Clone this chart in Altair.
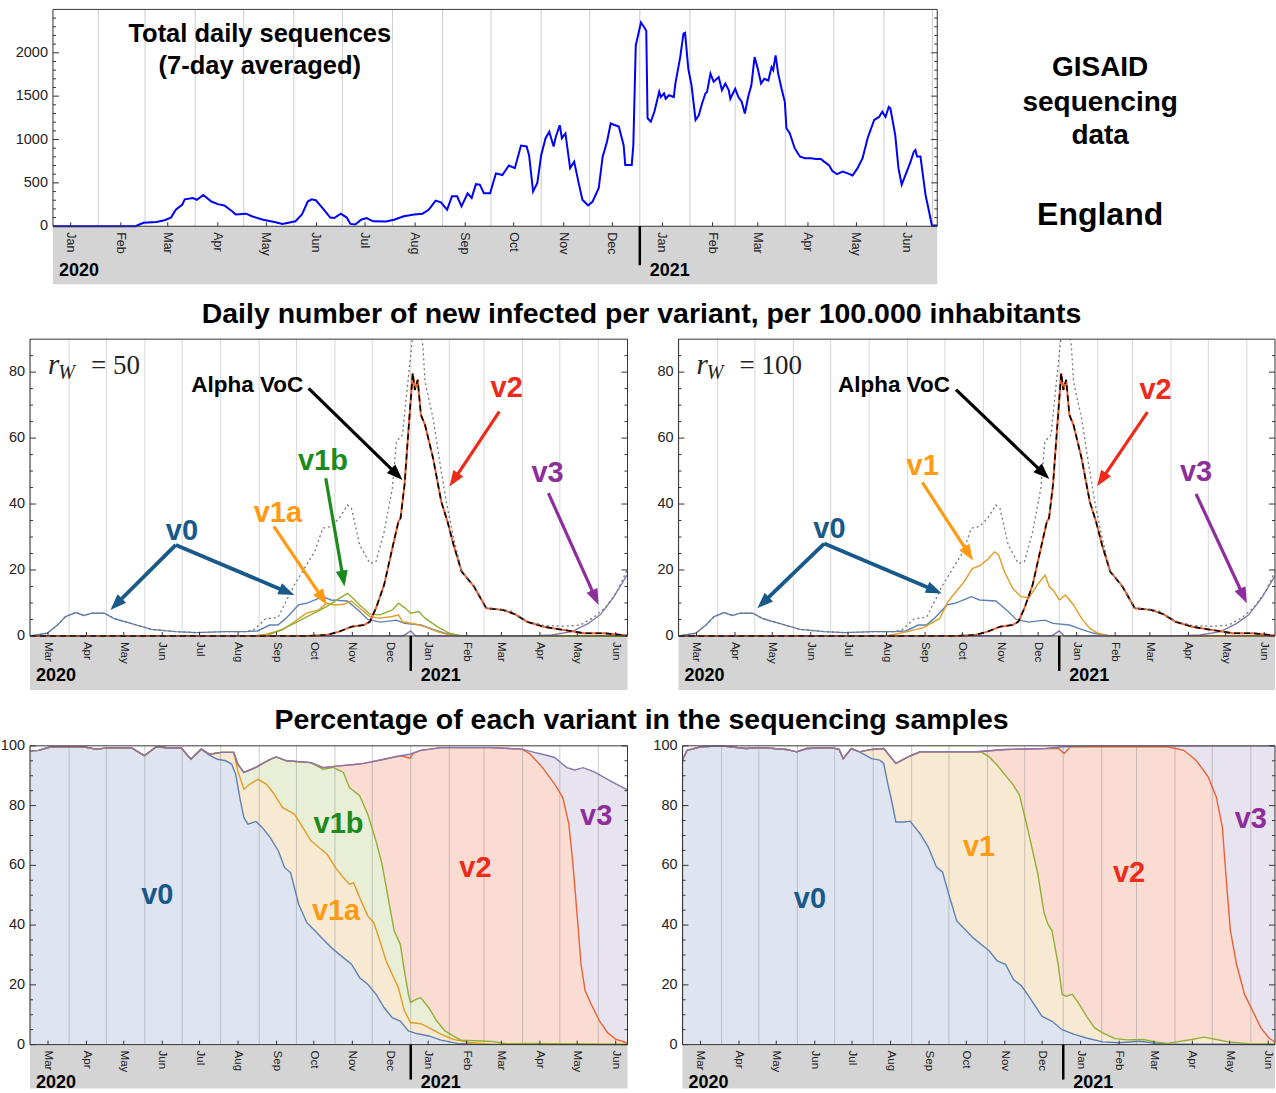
import altair as alt
import numpy as np
import pandas as pd

FONT = "Liberation Sans"
SERIF = "Liberation Serif"

# ======================= data (days counted from 1 Jan 2020 = day 0) =======================
# --- total daily sequences (7-day averaged), GISAID England ---
seq_days = [3, 54, 59, 67, 72, 76, 79, 83, 84.5, 89.6,
            92, 96, 101, 105, 109, 114, 116, 122.5, 126, 133,
            140, 145, 153, 157, 160.6, 163, 165.6, 170.7, 174.5, 177,
            181, 184.7, 187, 190, 193.6, 197, 201, 209, 214, 220,
            226.5, 231.6, 235.4, 239.7, 243, 246.8, 249.8, 253, 255.7, 259.5,
            262, 264.6, 267, 269.6, 273.4, 277, 281, 285, 288.7, 292.5,
            296, 297.5, 300, 302.6, 305, 307.7, 310, 312.7, 314, 316.5,
            317.8, 320, 322.9, 325.4, 328, 330.5, 334, 336.8, 340.6, 343,
            345.7, 348, 350.8, 353, 356, 357, 361, 362, 363.5, 366.7,
            368.7, 370, 370.8, 372.8, 375, 378, 379, 381, 382, 384,
            387, 388, 391, 393, 394, 396, 398, 400.5, 402.5, 404.5,
            406.6, 407.6, 409.7, 411.7, 414.8, 416.8, 418.9, 421, 422, 425,
            427, 429, 431, 433, 435, 437, 439, 441, 443, 445.5,
            447.5, 448.5, 450, 451.6, 453.7, 455.7, 456.7, 458.8, 461.8, 465,
            468, 472, 475, 478, 480, 483, 485, 488, 491.5, 494.6,
            497.6, 500.7, 503.8, 506.9, 511, 514, 516, 518, 520, 521,
            524, 526, 528, 530, 533.5, 535.5, 536.5, 537.5, 539.6, 542.7,
            544.7, 546.7, 550]
seq_vals = [0, 0, 40, 50, 70, 100, 190, 250, 310, 325,
            305, 360, 285, 255, 240, 170, 135, 145, 115, 75,
            50, 27, 57, 135, 285, 310, 300, 190, 100, 95,
            145, 100, 27, 20, 75, 95, 57, 55, 75, 115,
            135, 145, 190, 295, 275, 190, 345, 345, 230, 380,
            325, 485, 480, 380, 380, 610, 590, 700, 670, 930,
            920, 820, 400, 500, 820, 1015, 1090, 920, 1030, 1165,
            1015, 1070, 670, 745, 515, 305, 240, 285, 440, 800,
            975, 1185, 1165, 1150, 935, 705, 705, 935, 2085, 2350,
            2295, 2255, 1245, 1205, 1320, 1550, 1490, 1530, 1470, 1510,
            1490, 1645, 1950, 2220, 2230, 1815, 1625, 1225, 1280, 1415,
            1530, 1550, 1760, 1665, 1720, 1570, 1645, 1570, 1470, 1585,
            1490, 1435, 1300, 1490, 1625, 1950, 1815, 1645, 1700, 1680,
            1835, 1800, 1970, 1760, 1585, 1435, 1130, 1070, 900, 805,
            785, 785, 775, 775, 745, 705, 640, 600, 630, 610,
            585, 670, 785, 1015, 1225, 1260, 1320, 1260, 1375, 1360,
            1050, 670, 480, 575, 745, 860, 880, 805, 805, 365,
            190, 10, 10]

# --- daily new infected per variant, per 100.000 inhabitants ---
v0_days = [59.5, 73.3, 81.6, 88.2, 96.4, 102.9, 109.5, 119.4, 127.6, 140.7,
           157.2, 176.9, 193.4, 216.4, 232.8, 242.7, 252.5, 259.1, 265.7, 275.6,
           282.1, 292.0, 295.3, 301.9, 315.0, 324.9, 331.4, 341.3, 354.5, 361.0,
           374.2, 384.0, 393.9, 407.0, 540.5]
v0_vals = [0, 0.8, 3.3, 5.9, 7.1, 6.2, 6.9, 6.9, 5.2, 3.8,
           2.0, 1.3, 1.0, 1.3, 1.3, 1.5, 3.3, 3.3, 5.4, 9.4,
           9.9, 11.4, 11.9, 10.9, 10.6, 7.4, 5.0, 4.2, 4.8, 3.8,
           3.3, 2.0, 0.8, 0.0, 0.0]
# total (dotted) – equals v0 until August, then:
total_days_own = [239.4, 249.3, 259.1, 265.7, 272.3, 282.1, 288.7, 295.3, 301.9, 308.4,
                  315.0, 318.3, 324.9, 333.1, 338.0, 344.6, 351.2, 354.5, 359.4, 364.3,
                  369.3, 372.5, 375.8, 377.5, 384.0, 390.6, 395.6, 400.5, 407.0, 416.9,
                  426.8, 440.0, 446.5, 459.7, 472.8, 489.3, 502.4, 512.3, 522.2, 532.0,
                  540.2]
total_vals_own = [1.8, 5.2, 5.6, 10.5, 15.5, 21.5, 25.6, 32.7, 33.2, 35.7,
                  39.7, 38.7, 27.6, 22.0, 22.5, 31.6, 44.8, 59.0, 61.0, 79.2,
                  97.0, 95.0, 88.0, 77.1, 66.0, 49.8, 38.7, 29.8, 19.8, 15.3,
                  8.6, 8.0, 7.6, 4.5, 3.2, 2.9, 3.3, 5.4, 8.4, 13.4,
                  20.0]
alpha_days = [59.5, 283.0, 298.3, 308.4, 318.3, 328.2, 333.1, 338.0, 344.6, 351.2,
              356.1, 357.8, 361.0, 364.3, 367.6, 369.3, 371.6, 374.2, 377.5, 384.0,
              390.6, 395.6, 400.5, 407.0, 416.9, 426.8, 440.0, 449.8, 459.7, 472.8,
              489.3, 505.7, 522.2, 540.2]
alpha_vals = [0, 0, 0.3, 1.3, 2.8, 3.3, 4.3, 8.4, 15.5, 26.6,
              34.7, 35.7, 45.8, 63.0, 79.7, 74.6, 77.7, 67.0, 64.0, 53.9,
              40.7, 34.7, 27.6, 19.5, 15.0, 8.4, 7.9, 6.6, 4.3, 2.8,
              1.8, 0.8, 0.8, 0.1]
v1a_days = [59.5, 239.4, 249.3, 262.4, 272.3, 282.1, 292.0, 298.3, 305.1, 311.7,
            318.3, 324.9, 333.1, 341.3, 351.2, 356.1, 359.4, 370.9, 377.5, 387.3,
            397.2, 407.0, 540.5]
v1a_vals = [0, 0, 0.5, 1.8, 4.3, 6.9, 7.9, 9.9, 9.4, 9.6,
            10.6, 8.4, 5.9, 5.4, 5.9, 6.4, 4.3, 3.5, 2.8, 1.3,
            0.3, 0, 0]
v1b_days = [59.5, 249.3, 262.4, 272.3, 285.4, 298.3, 308.4, 315.0, 318.3, 324.9,
            333.1, 341.3, 351.2, 356.1, 361.0, 366.0, 372.5, 377.5, 387.3, 397.2,
            407.0, 540.5]
v1b_vals = [0, 0, 2.0, 3.8, 6.4, 8.9, 11.4, 12.9, 11.9, 9.4,
            6.6, 6.4, 7.9, 9.9, 8.6, 6.9, 7.4, 5.4, 2.8, 0.8,
            0, 0]
v1_days = [59.5, 227.4, 243.7, 256.8, 269.8, 276.4, 282.9, 289.4, 296.0, 302.5,
           309.0, 313.9, 317.2, 322.0, 328.6, 335.1, 341.6, 348.2, 354.7, 358.0,
           361.2, 366.1, 371.0, 377.5, 384.0, 390.6, 397.1, 406.9, 540.5]
v1_vals = [0, 0, 1.3, 2.5, 5.3, 10.4, 13.4, 16.4, 20.4, 21.4,
           23.4, 25.5, 24.6, 19.4, 14.4, 11.9, 11.6, 15.4, 18.4, 14.9,
           13.9, 10.9, 12.4, 9.4, 5.3, 2.3, 0.8, 0, 0]
v3_days = [59.5, 360.0, 366.0, 370.0, 463.0, 479.4, 495.8, 509.0, 518.5, 528.7, 540.2]
v3_vals = [0, 0, 1.5, 0, 0, 0.3, 1.3, 3.8, 6.4, 11.4, 18.5]

# --- percentage of each variant (cumulative boundaries), r_W = 50 ---
pL_top_days = [59.5, 66.5, 76.3, 102.5, 112.3, 125.4, 141.7, 151.5, 161.3, 174.4,
               181.0, 189.1, 197.3, 203.9, 213.7, 223.5, 226.8, 231.7, 239.8, 252.9,
               257.8, 266.0, 285.6, 295.4, 308.5, 324.9, 331.4, 344.5, 357.6, 365.1,
               374.0, 390.3, 429.6, 455.7, 465.5, 472.1, 481.9, 491.7, 498.2, 504.8,
               514.6, 524.4, 534.2, 540.8]
pL_top_vals = [98.3, 98.5, 99.7, 99.7, 98.9, 99.4, 99.2, 96.7, 99.7, 99.2,
               99.4, 95.5, 98.9, 97.2, 97.8, 97.8, 93.9, 91.1, 92.5, 95.5,
               96.3, 95.0, 94.4, 92.7, 93.3, 93.9, 94.4, 95.5, 96.7, 97.2,
               98.5, 99.4, 99.4, 98.9, 97.8, 97.2, 96.1, 92.7, 91.9, 92.7,
               91.1, 88.8, 86.6, 85.2]
pL_v2_days = [357.6, 365.5, 368.0, 374.0, 390.3, 429.6, 455.7, 462.3, 472.1, 481.9,
              488.4, 493.3, 496.6, 499.9, 503.1, 506.4, 511.3, 517.9, 524.4, 530.9,
              539.1, 540.8]
pL_v2_vals = [96.7, 95.9, 97.5, 98.5, 99.4, 99.4, 98.9, 97.2, 92.7, 87.2,
              82.7, 73.8, 60.4, 43.6, 26.9, 18.0, 13.5, 7.9, 4.0, 1.8,
              0.7, 0.5]
pL_v1b_days = [295.4, 303.6, 311.8, 316.7, 324.9, 331.4, 338.0, 342.9, 347.8, 352.7,
               357.6, 360.9, 364.1, 365.8, 370.7, 374.0, 380.5, 387.0, 393.6, 400.1,
               406.7, 423.0, 432.8, 442.6, 462.3, 478.5, 540.8]
pL_v1b_vals = [92.2, 92.8, 91.1, 86.0, 83.3, 77.1, 68.2, 60.4, 49.2, 38.1,
               33.6, 24.7, 16.9, 14.1, 15.2, 15.7, 12.4, 7.9, 4.6, 2.9,
               1.5, 1.2, 1.0, 0.3, 0.4, 0.3, 0.1]
pL_v1a_days = [226.8, 231.7, 236.6, 243.1, 249.7, 256.2, 262.7, 267.6, 272.5, 279.1,
               285.6, 292.2, 298.7, 305.3, 311.8, 316.7, 320.0, 324.9, 331.4, 336.3,
               341.2, 346.2, 351.1, 356.0, 360.9, 365.8, 374.0, 380.5, 390.3, 400.1,
               413.2, 429.6, 540.8]
pL_v1a_vals = [91.6, 85.5, 87.2, 88.8, 87.2, 83.8, 79.4, 78.2, 77.1, 72.7,
               68.2, 66.0, 63.7, 59.3, 55.9, 53.7, 54.2, 49.2, 43.1, 40.8,
               34.7, 28.0, 23.5, 19.1, 11.3, 7.4, 7.0, 5.7, 3.5, 1.8,
               0.7, 0.1, 0.0]
pL_v0_days = [203.9, 210.4, 217.0, 221.8, 225.1, 228.4, 231.7, 234.9, 241.5, 246.4,
              252.9, 259.5, 264.4, 269.3, 275.8, 282.4, 288.9, 295.4, 302.0, 308.5,
              318.3, 324.9, 331.4, 338.0, 344.5, 351.1, 357.6, 364.1, 370.7, 380.5,
              390.3, 403.4, 416.5, 540.8]
pL_v0_vals = [96.9, 95.5, 95.0, 93.9, 90.5, 82.7, 76.0, 73.8, 74.7, 72.7,
              69.3, 64.8, 59.3, 57.6, 47.0, 40.8, 38.1, 35.3, 32.5, 30.2,
              26.9, 22.4, 20.2, 16.9, 12.4, 9.0, 7.9, 4.6, 3.7, 2.9,
              1.5, 0.4, 0.1, 0.0]

# --- percentage of each variant (cumulative boundaries), r_W = 100 ---
pR_top_days = [59.5, 63.2, 74.7, 91.0, 110.6, 123.6, 143.2, 151.4, 159.5, 179.1,
               185.6, 188.9, 195.4, 202.0, 211.7, 221.5, 231.3, 241.1, 250.9, 273.8,
               296.6, 319.5, 352.1, 365.1, 384.7, 540.5]
pR_top_vals = [95.2, 98.5, 99.7, 100, 99.1, 99.4, 98.8, 98.0, 99.1, 99.4,
               98.8, 95.7, 99.1, 98.0, 98.8, 99.1, 94.1, 96.3, 98.0, 98.0,
               98.0, 98.8, 99.1, 99.7, 100, 100]
pR_v2_days = [362.0, 366.8, 371.7, 450.0, 463.1, 472.9, 482.7, 489.2, 494.1, 497.3,
              500.6, 505.5, 512.0, 518.6, 525.1, 531.6, 537.5, 540.5]
pR_v2_vals = [99.2, 97.4, 99.7, 99.7, 98.5, 95.2, 89.6, 82.9, 72.8, 54.9,
              38.1, 26.9, 16.8, 11.2, 5.6, 2.2, 0.6, 0.3]
pR_v1_days = [299.9, 306.4, 312.9, 319.5, 326.0, 330.9, 335.8, 340.7, 345.6, 350.5,
              353.7, 357.0, 361.9, 365.1, 368.4, 373.3, 378.2, 384.7, 391.3, 397.8,
              407.6, 417.4, 430.4, 440.2, 450.0, 459.8, 469.6, 479.4, 489.2, 499.0,
              515.3, 540.5]
pR_v1_vals = [98.0, 96.3, 93.5, 90.1, 86.8, 83.4, 75.0, 66.1, 57.1, 44.2,
              40.3, 38.1, 26.9, 16.8, 16.2, 16.8, 14.0, 9.5, 5.6, 3.9,
              2.0, 1.6, 1.7, 0.9, 0.4, 1.1, 1.7, 2.5, 1.7, 0.9,
              0.3, 0.2]
pR_v0_days = [211.7, 218.3, 221.5, 224.8, 228.1, 231.3, 237.9, 242.7, 250.9, 257.4,
              264.0, 268.9, 273.8, 280.3, 286.8, 293.3, 301.5, 306.4, 312.9, 319.5,
              326.0, 332.5, 339.0, 348.8, 357.0, 365.1, 374.9, 384.7, 397.8, 410.8,
              427.2, 437.0, 450.0, 540.5]
pR_v0_vals = [95.7, 95.2, 94.1, 87.3, 81.2, 74.5, 74.5, 74.8, 70.5, 66.1,
              59.4, 57.7, 50.4, 41.4, 38.6, 35.8, 33.0, 31.4, 28.0, 26.9,
              21.8, 19.6, 15.7, 9.5, 7.8, 5.0, 3.4, 2.2, 0.9, 0.6,
              1.1, 0.6, 0.2, 0.0]


def extend(base_d, base_v, own_d, own_v):
    """Series that follows base until its own readings start."""
    keep = [i for i, d in enumerate(base_d) if d < own_d[0]]
    return [base_d[i] for i in keep] + list(own_d), [base_v[i] for i in keep] + list(own_v)


total_days, total_vals = extend(v0_days, v0_vals, total_days_own, total_vals_own)
pL_v2 = extend(pL_top_days, pL_top_vals, pL_v2_days, pL_v2_vals)
pL_v1b = extend(pL_top_days, pL_top_vals, pL_v1b_days, pL_v1b_vals)
pL_v1a = extend(pL_top_days, pL_top_vals, pL_v1a_days, pL_v1a_vals)
pL_v0 = extend(pL_top_days, pL_top_vals, pL_v0_days, pL_v0_vals)
pR_v2 = extend(pR_top_days, pR_top_vals, pR_v2_days, pR_v2_vals)
pR_v1 = extend(pR_top_days, pR_top_vals, pR_v1_days, pR_v1_vals)
pR_v0 = extend(pR_top_days, pR_top_vals, pR_v0_days, pR_v0_vals)

# months / calendar
ORIGIN = pd.Timestamp("2020-01-01")
MONTHS = pd.date_range("2020-01-01", "2021-07-01", freq="MS")
month_start = [int((m - ORIGIN).days) for m in MONTHS]
month_mid = [d + 14 for d in month_start]
month_name = [m.strftime("%b") for m in MONTHS]
YEAR_SPLIT = int((pd.Timestamp("2021-01-01") - ORIGIN).days)

# colours
LINE = {"v0": "#5E81B5", "v1a": "#E19C24", "v1b": "#8FB032", "v2": "#EB6235", "v3": "#8778B3"}
FILL = {"v0": "#dfe5f0", "v1a": "#f8e9d2", "v1b": "#e8efd6", "v2": "#fadcd3", "v3": "#e7e3ef"}
LAB = {"v0": "#17598a", "v1a": "#ff9a12", "v1b": "#1d8a1d", "v2": "#ee2a1a", "v3": "#8e2e9c",
       "alpha": "#000000"}


class Panel:
    def __init__(self, x0, W, ppd, ymax, plot_h, band_h):
        self.x0 = x0
        self.W = W
        self.ppd = ppd
        self.x1 = x0 + W / ppd
        self.ymax = ymax
        self.ppu = plot_h / ymax
        self.ymin = -band_h / self.ppu
        self.H = plot_h + band_h
        self.xs = alt.Scale(domain=[self.x0, self.x1], nice=False, zero=False)
        self.ys = alt.Scale(domain=[self.ymin, self.ymax], nice=False, zero=False)

    def X(self, f):
        return alt.X(f, type="quantitative", scale=self.xs, axis=None)

    def Y(self, f):
        return alt.Y(f, type="quantitative", scale=self.ys, axis=None)

    @staticmethod
    def ch(d):
        return alt.Chart(pd.DataFrame(d))

    def band(self):
        return self.ch({"a": [self.x0], "b": [self.x1], "c": [self.ymin], "d": [0.0]}).mark_rect(
            color="#d4d4d4").encode(x=self.X("a"), x2="b", y=self.Y("c"), y2="d")

    def grid(self, color, opacity=1.0):
        xs = [d for d in month_start if self.x0 < d < self.x1]
        return self.ch({"x": xs, "y": [0.0] * len(xs), "y2": [self.ymax] * len(xs)}).mark_rule(
            color=color, strokeWidth=1, opacity=opacity).encode(x=self.X("x"), y=self.Y("y"), y2="y2")

    def frame(self):
        return self.ch({"a": [self.x0], "b": [self.x1], "c": [0.0], "d": [self.ymax]}).mark_rect(
            filled=False, color="#333333", strokeWidth=1).encode(x=self.X("a"), x2="b", y=self.Y("c"), y2="d")

    def yticks(self, major, minor):
        rows = []
        for v in major:
            rows += [(self.x0, self.x0 + 6 / self.ppd, v), (self.x1 - 6 / self.ppd, self.x1, v)]
        for v in minor:
            rows += [(self.x0, self.x0 + 3 / self.ppd, v), (self.x1 - 3 / self.ppd, self.x1, v)]
        a, b, y = zip(*rows)
        return self.ch({"a": a, "b": b, "y": y}).mark_rule(color="#333333", strokeWidth=1).encode(
            x=self.X("a"), x2="b", y=self.Y("y"))

    def ylabels(self, vals, size=14.5):
        return self.ch({"x": [self.x0] * len(vals), "y": vals, "t": [str(v) for v in vals]}).mark_text(
            font=FONT, fontSize=size, align="right", baseline="middle", dx=-5, color="#222222").encode(
            x=self.X("x"), y=self.Y("y"), text="t:N")

    def xticks(self):
        xs = [d for d in month_mid if self.x0 < d < self.x1]
        n = len(xs)
        return self.ch({"x": xs, "y": [0.0] * n, "y2": [4 / self.ppu] * n}).mark_rule(
            color="#333333", strokeWidth=1).encode(x=self.X("x"), y=self.Y("y"), y2="y2")

    def xlabels(self, size):
        idx = [i for i, d in enumerate(month_mid) if self.x0 < d < self.x1]
        return self.ch({"x": [month_mid[i] for i in idx], "y": [0.0] * len(idx),
                        "t": [month_name[i] for i in idx]}).mark_text(
            font=FONT, fontSize=size, angle=90, align="left", baseline="middle", dx=6,
            color="#222222").encode(x=self.X("x"), y=self.Y("y"), text="t:N")

    def years(self, y_off, rule_px, size=18):
        rule = self.ch({"x": [YEAR_SPLIT], "y": [0.0], "y2": [-rule_px / self.ppu]}).mark_rule(
            color="black", strokeWidth=2.5).encode(x=self.X("x"), y=self.Y("y"), y2="y2")
        txt = self.ch({"x": [self.x0 + 6 / self.ppd, YEAR_SPLIT + 10 / self.ppd], "y": [0.0, 0.0],
                       "t": ["2020", "2021"]}).mark_text(
            font=FONT, fontSize=size, fontWeight="bold", align="left", baseline="alphabetic",
            dy=y_off, color="black").encode(x=self.X("x"), y=self.Y("y"), text="t:N")
        return [rule, txt]

    def line(self, days, vals, color, width=1.4, dash=None):
        kw = dict(color=color, strokeWidth=width, clip=True)
        if dash:
            kw["strokeDash"] = dash
        return self.ch({"x": days, "y": vals}).mark_line(**kw).encode(x=self.X("x"), y=self.Y("y"))

    def area(self, days, vals, color):
        return self.ch({"x": days, "y": vals, "z": [0.0] * len(days)}).mark_area(
            color=color, opacity=1, clip=True).encode(x=self.X("x"), y=self.Y("y"), y2="z")

    def labels(self, items, size=29, align="center"):
        t, x, y, c = zip(*items)
        return self.ch({"t": t, "x": x, "y": y, "c": c}).mark_text(
            font=FONT, fontSize=size, fontWeight="bold", align=align, baseline="middle").encode(
            x=self.X("x"), y=self.Y("y"), text="t:N", color=alt.Color("c:N", scale=None))

    def arrows(self, specs, head=16):
        rows = []
        for x1, y1, x2, y2, col, w in specs:
            dxp = (x2 - x1) * self.ppd
            dyp = -(y2 - y1) * self.ppu
            L = float(np.hypot(dxp, dyp))
            ux, uy = dxp / L, dyp / L
            rows.append({"x1": x1, "y1": y1,
                         "cx": x2 - ux * (head / 2) / self.ppd,
                         "cy": y2 + uy * (head / 2) / self.ppu,
                         "c": col, "w": w,
                         "a": float(np.degrees(np.arctan2(dxp, -dyp)) % 360),
                         "s": head * head})
        d = pd.DataFrame(rows)
        shaft = alt.Chart(d).mark_rule(strokeCap="butt").encode(
            x=self.X("x1"), y=self.Y("y1"), x2="cx", y2="cy",
            color=alt.Color("c:N", scale=None), strokeWidth=alt.StrokeWidth("w:Q", scale=None))
        tip = alt.Chart(d).mark_point(shape="M0,-1L0.75,1L-0.75,1Z", filled=True, opacity=1).encode(
            x=self.X("cx"), y=self.Y("cy"), color=alt.Color("c:N", scale=None),
            angle=alt.Angle("a:Q", scale=None), size=alt.Size("s:Q", scale=None))
        return [shaft, tip]

    def rw(self, value_text):
        r = self.ch({"x": [74.0], "y": [79.4], "t": ["r"]}).mark_text(
            font=SERIF, fontStyle="italic", fontSize=29, align="left", baseline="alphabetic",
            color="#222222").encode(x=self.X("x"), y=self.Y("y"), text="t:N")
        w = self.ch({"x": [82.3], "y": [77.9], "t": ["W"]}).mark_text(
            font=SERIF, fontStyle="italic", fontSize=20, align="left", baseline="alphabetic",
            color="#222222").encode(x=self.X("x"), y=self.Y("y"), text="t:N")
        eq = self.ch({"x": [108.6], "y": [79.4], "t": ["= " + value_text]}).mark_text(
            font=SERIF, fontSize=27, align="left", baseline="alphabetic",
            color="#222222").encode(x=self.X("x"), y=self.Y("y"), text="t:N")
        return [r, w, eq]

    def frame_layers(self, major, minor, xsize, y_off, rule_px):
        return [self.frame(), self.yticks(major, minor), self.xticks(), self.ylabels(major),
                self.xlabels(xsize)] + self.years(y_off, rule_px)


def spacer(w, h):
    return alt.Chart(pd.DataFrame({"a": [0]})).mark_point(opacity=0, size=1).encode(
        x=alt.value(w / 2), y=alt.value(h / 2)).properties(width=w, height=h)


def text_at(txt, x, y, size, bold=True, align="center"):
    return alt.Chart(pd.DataFrame({"t": [txt]})).mark_text(
        font=FONT, fontSize=size, fontWeight="bold" if bold else "normal", align=align,
        baseline="middle", color="black").encode(x=alt.value(x), y=alt.value(y), text="t:N")


# ======================= top panel =======================
pt = Panel(3, 885, 885 / 547, 2500, 217, 58)
top_major = [0, 500, 1000, 1500, 2000]
top_minor = [v for v in range(100, 2500, 100) if v % 500]
top_chart = alt.layer(
    pt.band(), pt.grid("#cccccc"),
    pt.line(seq_days, seq_vals, "#0000ff", 2.0),
    *pt.frame_layers(top_major, top_minor, 12.5, 50, 39),
    text_at("Total daily sequences", 207, 25, 25.5),
    text_at("(7-day averaged)", 207, 57, 25.5),
).properties(width=pt.W, height=pt.H)

info_chart = alt.layer(
    text_at("GISAID", 163, 59, 28),
    text_at("sequencing", 163, 94, 28),
    text_at("data", 163, 127, 28),
    text_at("England", 163, 206, 32),
).properties(width=338, height=275)

# ======================= middle panels =======================
PPD = 598 / 481


def mid_panel(W, variant_lines, labels, alpha_x, arrows, rw_text):
    p = Panel(59.5, W, PPD, 90, 297, 54)
    layers = [p.band(), p.grid("#d8d8d8"), p.line(v0_days, v0_vals, LINE["v0"])]
    layers += [p.line(d, v, c) for d, v, c in variant_lines]
    layers += [p.line(v3_days, v3_vals, LINE["v3"]),
               p.line(alpha_days, alpha_vals, LINE["v2"], 2.0),
               p.line(alpha_days, alpha_vals, "black", 1.6, [6, 4]),
               p.line(total_days, total_vals, "#777777", 1.3, [2, 3])]
    layers += p.frame_layers([0, 20, 40, 60, 80], [v for v in range(5, 90, 5) if v % 20], 11.5, 45, 35)
    layers += p.rw(rw_text)
    layers.append(p.labels(labels))
    layers.append(p.labels([("Alpha VoC", alpha_x, 76.1, LAB["alpha"])], size=22.5, align="right"))
    layers += p.arrows(arrows)
    return alt.layer(*layers).properties(width=p.W, height=p.H)


midL = mid_panel(
    598,
    [(v1a_days, v1a_vals, LINE["v1a"]), (v1b_days, v1b_vals, LINE["v1b"])],
    [("v0", 181.8, 31.9, LAB["v0"]), ("v1a", 259.1, 37.2, LAB["v1a"]),
     ("v1b", 295.3, 52.9, LAB["v1b"]), ("v2", 443.2, 75.1, LAB["v2"]),
     ("v3", 476.1, 49.3, LAB["v3"])],
    279.5,
    [(283.8, 75.1, 359.4, 47.3, LAB["alpha"], 3.2),
     (437.3, 68.0, 397.2, 45.3, LAB["v2"], 3.2),
     (297.6, 47.8, 312.7, 15.0, LAB["v1b"], 3.2),
     (255.8, 33.2, 298.6, 9.4, LAB["v1a"], 3.2),
     (176.9, 27.6, 124.3, 7.9, LAB["v0"], 3.8),
     (176.9, 27.6, 272.3, 12.4, LAB["v0"], 3.8),
     (476.8, 43.3, 517.2, 9.4, LAB["v3"], 3.2)],
    "50")

midR = mid_panel(
    597,
    [(v1_days, v1_vals, LINE["v1a"])],
    [("v0", 181.0, 32.5, LAB["v0"]), ("v1", 256.1, 51.6, LAB["v1a"]),
     ("v2", 443.5, 74.7, LAB["v2"]), ("v3", 476.1, 49.6, LAB["v3"])],
    278.0,
    [(282.9, 74.7, 358.0, 47.6, LAB["alpha"], 3.2),
     (437.0, 67.9, 396.5, 45.4, LAB["v2"], 3.2),
     (255.8, 46.6, 296.6, 22.9, LAB["v1a"], 3.2),
     (176.8, 28.0, 123.0, 8.4, LAB["v0"], 3.8),
     (176.8, 28.0, 271.5, 12.9, LAB["v0"], 3.8),
     (476.1, 43.1, 517.0, 9.9, LAB["v3"], 3.2)],
    "100")

# ======================= bottom panels =======================


def pct_panel(W, top, bounds, labels):
    p = Panel(59.5, W, PPD, 100, 299, 44)
    layers = [p.band(), p.area(top[0], top[1], FILL["v3"])]
    layers += [p.area(b[0], b[1], FILL[k]) for k, b, _ in bounds]
    layers.append(p.grid("#8c8c8c", 0.45))
    layers += [p.line(b[0], b[1], lc, 1.4) for _, b, lc in bounds[::-1]]
    layers.append(p.line(top[0], top[1], LINE["v3"], 1.4))
    layers += p.frame_layers([0, 20, 40, 60, 80, 100], [v for v in range(5, 100, 5) if v % 20], 11.5, 43, 35)
    layers.append(p.labels(labels))
    return alt.layer(*layers).properties(width=p.W, height=p.H)


botL = pct_panel(
    598, (pL_top_days, pL_top_vals),
    [("v2", pL_v2, LINE["v2"]), ("v1b", pL_v1b, LINE["v1b"]),
     ("v1a", pL_v1a, LINE["v1a"]), ("v0", pL_v0, LINE["v0"])],
    [("v0", 162.0, 50.1, LAB["v0"]), ("v1b", 307.9, 74.0, LAB["v1b"]),
     ("v1a", 305.9, 44.8, LAB["v1a"]), ("v2", 418.1, 59.0, LAB["v2"]),
     ("v3", 515.3, 76.6, LAB["v3"])])

botR = pct_panel(
    593, (pR_top_days, pR_top_vals),
    [("v2", pR_v2, LINE["v2"]), ("v1a", pR_v1, LINE["v1b"]), ("v0", pR_v0, LINE["v0"])],
    [("v0", 162.1, 48.7, LAB["v0"]), ("v1", 298.2, 66.3, LAB["v1a"]),
     ("v2", 419.0, 57.3, LAB["v2"]), ("v3", 517.0, 75.6, LAB["v3"])])

# ======================= headings & layout =======================
head1 = text_at("Daily number of new infected per variant, per 100.000 inhabitants", 641, 30, 28.5).properties(
    width=1275, height=54)
# the bottom row's "100" label reaches ~7 px above its plot, which the layout counts
head2 = text_at("Percentage of each variant in the sequencing samples", 641, 30, 28.5).properties(
    width=1275, height=48)

rowA = alt.hconcat(spacer(52, 275), top_chart, info_chart, spacing=0, bounds="flush")
rowC = alt.hconcat(spacer(29, 351), midL, spacer(51, 351), midR, spacing=0, bounds="flush")
rowE = alt.hconcat(spacer(29, 343), botL, spacer(55, 343), botR, spacing=0, bounds="flush")

chart = alt.vconcat(
    rowA, head1, rowC, head2, rowE, spacing=0,
    padding={"left": 0, "top": 8, "right": 0, "bottom": 0},
).configure_view(stroke="transparent", strokeWidth=0)

chart.save("out.html", embed_options={"renderer": "svg", "actions": False})
